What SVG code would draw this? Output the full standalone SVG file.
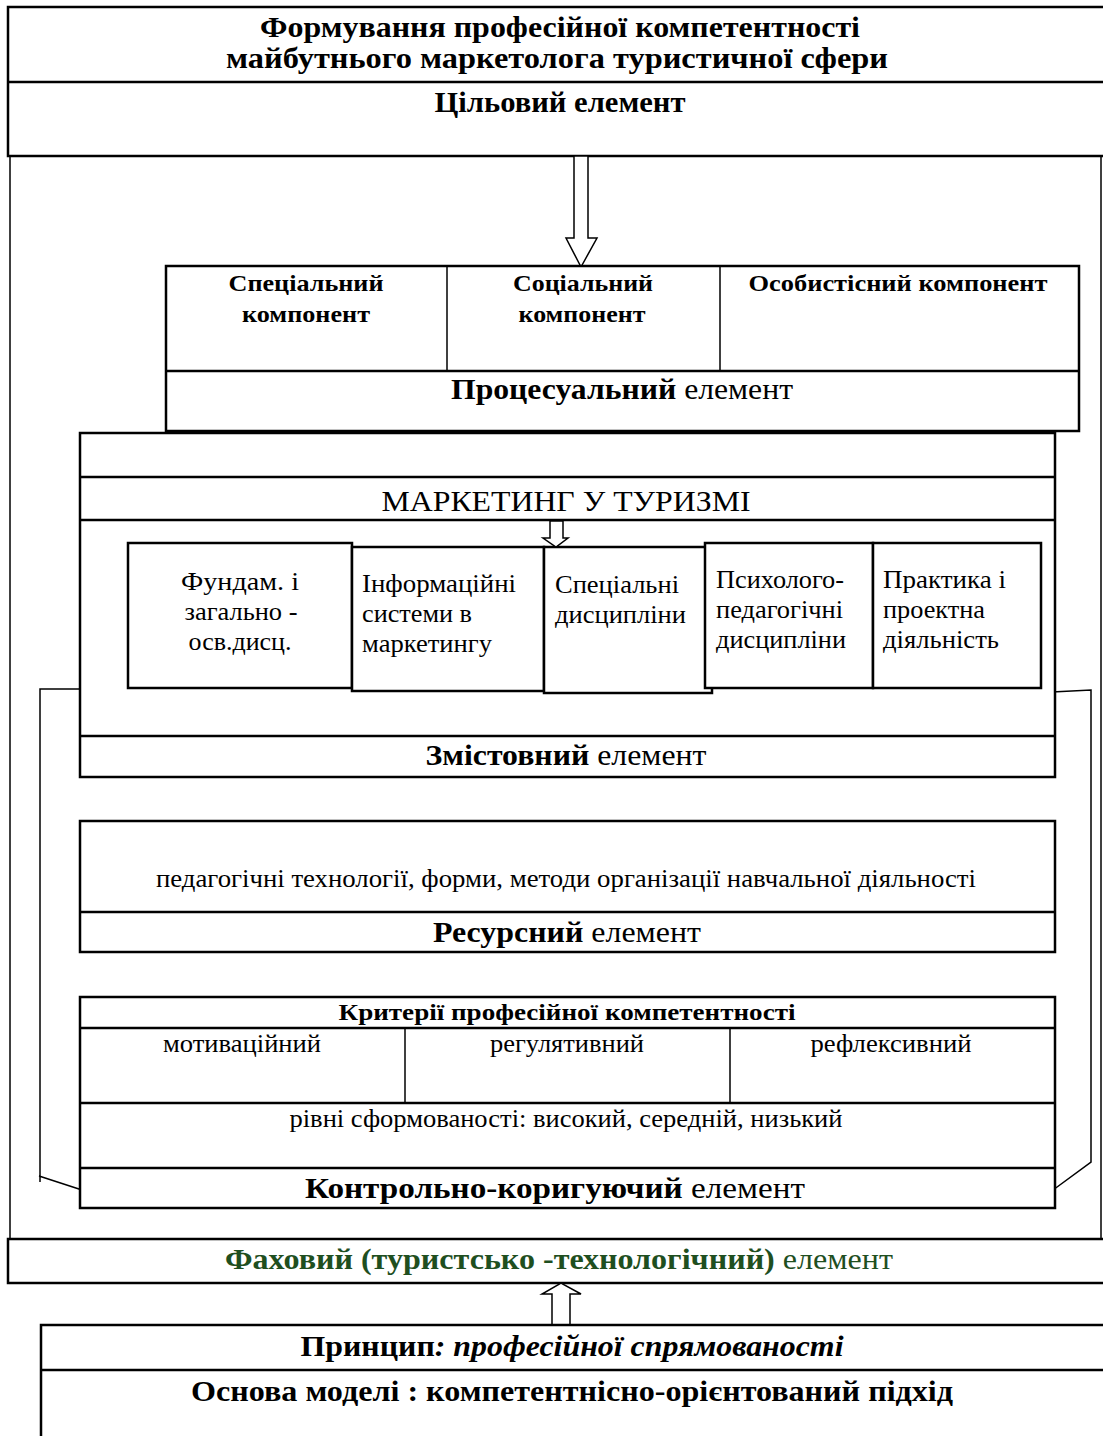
<svg xmlns="http://www.w3.org/2000/svg" width="1103" height="1436" viewBox="0 0 1103 1436">
<style>
text{font-family:"Liberation Serif","Times New Roman",serif;fill:#000;}
.b{font-weight:bold;}
.box{fill:#fff;stroke:#000;stroke-width:2.5;}
.ln{stroke:#000;stroke-width:2.5;fill:none;}
.thin{stroke:#000;stroke-width:1.5;fill:none;}
.arr{fill:#fff;stroke:#000;stroke-width:1.5;}
.c{text-anchor:middle;}
.g{fill:#1f4f1f;}
.L{font-size:30px;}
.D{font-size:25px;}
</style>
<rect width="1103" height="1436" fill="#fff"/>
<g id="connectors">
<line class="thin" x1="10" y1="156" x2="10" y2="1239"/>
<line class="thin" x1="1101" y1="156" x2="1101" y2="1243"/>
<path class="thin" d="M83,689 H40 V1182 M39,1176 L82,1190"/>
<path class="thin" d="M1052,692 L1091,690 V1162 L1053,1190"/>
</g>
<g id="target">
<rect class="box" x="8" y="7" width="1110" height="149"/>
<line class="ln" x1="8" y1="82" x2="1103" y2="82"/>
<text class="b c" x="560" y="37" font-size="30" textLength="600" lengthAdjust="spacingAndGlyphs">Формування професійної компетентності</text>
<text class="b c" x="557" y="68" font-size="30" textLength="662" lengthAdjust="spacingAndGlyphs">майбутнього маркетолога туристичної сфери</text>
<text class="b c" x="560" y="112" font-size="29" textLength="251" lengthAdjust="spacingAndGlyphs">Цільовий елемент</text>
</g>
<g id="arrow-top">
<path class="arr" d="M574,156 H588 V238 H597 L581,267 L566,238 H574 Z"/>
</g>
<g id="process">
<rect class="box" x="166" y="266" width="913" height="165"/>
<line class="ln" x1="166" y1="371" x2="1079" y2="371"/>
<line class="thin" x1="447" y1="266" x2="447" y2="371"/>
<line class="thin" x1="720" y1="266" x2="720" y2="371"/>
<text class="b c" x="306" y="291" font-size="24" textLength="155" lengthAdjust="spacingAndGlyphs">Спеціальний</text>
<text class="b c" x="306" y="322" font-size="24" textLength="128" lengthAdjust="spacingAndGlyphs">компонент</text>
<text class="b c" x="583" y="291" font-size="24" textLength="140" lengthAdjust="spacingAndGlyphs">Соціальний</text>
<text class="b c" x="582" y="322" font-size="24" textLength="127" lengthAdjust="spacingAndGlyphs">компонент</text>
<text class="b c" x="898" y="291" font-size="24" textLength="299" lengthAdjust="spacingAndGlyphs">Особистісний компонент</text>
<text class="c L" x="622" y="399" textLength="342" lengthAdjust="spacingAndGlyphs"><tspan class="b">Процесуальний</tspan> елемент</text>
</g>
<g id="content">
<rect class="box" x="80" y="433" width="975" height="344"/>
<line class="ln" x1="80" y1="477" x2="1055" y2="477"/>
<line class="ln" x1="80" y1="520" x2="1055" y2="520"/>
<line class="ln" x1="80" y1="736" x2="1055" y2="736"/>
<text class="c" x="566" y="511" font-size="29" textLength="369" lengthAdjust="spacingAndGlyphs">МАРКЕТИНГ У ТУРИЗМІ</text>
<text class="c L" x="566" y="765" textLength="281" lengthAdjust="spacingAndGlyphs"><tspan class="b">Змістовний</tspan> елемент</text>
</g>
<g id="disc1">
<rect class="box" x="128" y="543" width="224" height="145"/>
<text class="c D" x="240" y="590" textLength="118" lengthAdjust="spacingAndGlyphs">Фундам.  і</text>
<text class="c D" x="241" y="620" textLength="113" lengthAdjust="spacingAndGlyphs">загально -</text>
<text class="c D" x="240" y="650" textLength="103" lengthAdjust="spacingAndGlyphs">осв.дисц.</text>
</g>
<g id="disc2">
<rect class="box" x="352" y="547" width="192" height="144"/>
<text class="D" x="362" y="592" textLength="154" lengthAdjust="spacingAndGlyphs">Інформаційні</text>
<text class="D" x="362" y="622" textLength="110" lengthAdjust="spacingAndGlyphs">системи в</text>
<text class="D" x="362" y="652" textLength="130" lengthAdjust="spacingAndGlyphs">маркетингу</text>
</g>
<g id="disc3">
<rect class="box" x="544" y="547" width="168" height="146"/>
<text class="D" x="555" y="593" textLength="124" lengthAdjust="spacingAndGlyphs">Спеціальні</text>
<text class="D" x="555" y="623" textLength="131" lengthAdjust="spacingAndGlyphs">дисципліни</text>
</g>
<g id="disc4">
<rect class="box" x="705" y="543" width="168" height="145"/>
<text class="D" x="716" y="588" textLength="128" lengthAdjust="spacingAndGlyphs">Психолого-</text>
<text class="D" x="716" y="618" textLength="127" lengthAdjust="spacingAndGlyphs">педагогічні</text>
<text class="D" x="716" y="648" textLength="130" lengthAdjust="spacingAndGlyphs">дисципліни</text>
</g>
<g id="disc5">
<rect class="box" x="873" y="543" width="168" height="145"/>
<text class="D" x="883" y="588" textLength="123" lengthAdjust="spacingAndGlyphs">Практика і</text>
<text class="D" x="883" y="618" textLength="102" lengthAdjust="spacingAndGlyphs">проектна</text>
<text class="D" x="883" y="648" textLength="116" lengthAdjust="spacingAndGlyphs">діяльність</text>
</g>
<g id="arrow-mid">
<path class="arr" d="M550,521 H563 V538 H568 L556,547 L543,538 H550 Z"/>
</g>
<g id="resource">
<rect class="box" x="80" y="821" width="975" height="131"/>
<line class="ln" x1="80" y1="912" x2="1055" y2="912"/>
<text class="c D" x="566" y="887" textLength="820" lengthAdjust="spacingAndGlyphs">педагогічні технології, форми, методи організації навчальної діяльності</text>
<text class="c L" x="567" y="942" textLength="268" lengthAdjust="spacingAndGlyphs"><tspan class="b">Ресурсний</tspan> елемент</text>
</g>
<g id="control">
<rect class="box" x="80" y="997" width="975" height="211"/>
<line class="ln" x1="80" y1="1028" x2="1055" y2="1028"/>
<line class="ln" x1="80" y1="1103" x2="1055" y2="1103"/>
<line class="ln" x1="80" y1="1168" x2="1055" y2="1168"/>
<line class="thin" x1="405" y1="1028" x2="405" y2="1103"/>
<line class="thin" x1="730" y1="1028" x2="730" y2="1103"/>
<text class="b c" x="567" y="1020" font-size="24" textLength="457" lengthAdjust="spacingAndGlyphs">Критерії  професійної компетентності</text>
<text class="c D" x="242" y="1052" textLength="158" lengthAdjust="spacingAndGlyphs">мотиваційний</text>
<text class="c D" x="567" y="1052" textLength="154" lengthAdjust="spacingAndGlyphs">регулятивний</text>
<text class="c D" x="891" y="1052" textLength="161" lengthAdjust="spacingAndGlyphs">рефлексивний</text>
<text class="c D" x="566" y="1127" textLength="553" lengthAdjust="spacingAndGlyphs">рівні сформованості: високий, середній, низький</text>
<text class="c L" x="555" y="1198" textLength="500" lengthAdjust="spacingAndGlyphs"><tspan class="b">Контрольно-коригуючий</tspan> елемент</text>
</g>
<g id="fach">
<rect class="box" x="8" y="1239" width="1110" height="44"/>
<text class="c g L" x="559" y="1269" textLength="668" lengthAdjust="spacingAndGlyphs"><tspan class="b">Фаховий (туристсько -технологічний)</tspan> елемент</text>
</g>
<g id="arrow-bottom">
<path class="arr" d="M552,1325 V1294 H542 L561,1283 L581,1294 H570 V1325 Z"/>
</g>
<g id="basis">
<rect class="box" x="41" y="1325" width="1080" height="130"/>
<line class="ln" x1="41" y1="1370" x2="1103" y2="1370"/>
<text class="c L" x="572" y="1356" textLength="543" lengthAdjust="spacingAndGlyphs"><tspan class="b">Принцип</tspan><tspan class="b" font-style="italic">: професійної спрямованості</tspan></text>
<text class="b c L" x="572" y="1401" textLength="762" lengthAdjust="spacingAndGlyphs">Основа моделі : компетентнісно-орієнтований підхід</text>
</g>
</svg>
